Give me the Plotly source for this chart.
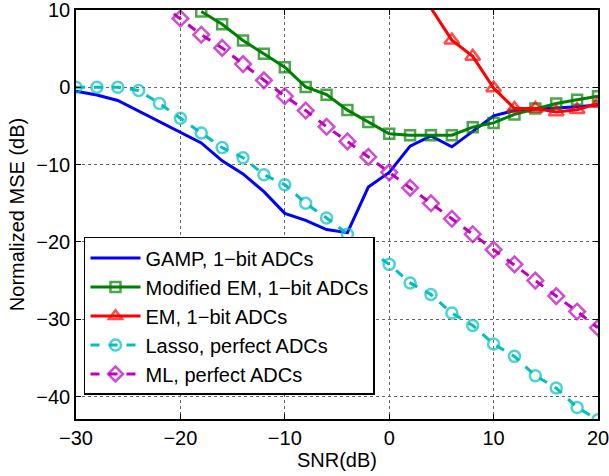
import plotly.graph_objects as go

# SNR grid (dB)
snr = [-30, -28, -26, -24, -22, -20, -18, -16, -14, -12, -10, -8, -6, -4, -2,
       0, 2, 4, 6, 8, 10, 12, 14, 16, 18, 20]

# GAMP with 1-bit ADCs
gamp_mse = [-0.5, -1.0, -1.7, -3.1, -4.5, -5.9, -7.2, -9.5, -11.2, -13.5, -16.3,
            -17.2, -18.4, -18.8, -12.9, -11.0, -7.6, -6.3, -7.7, -5.7, -3.7,
            -3.0, -2.85, -2.65, -2.5, -2.3]

# Modified EM with 1-bit ADCs
mem_snr = [-18, -16, -14, -12, -10, -8, -6, -4, -2, 0, 2, 4, 6, 8, 10, 12, 14, 16, 18, 20]
mem_mse = [9.8, 8.15, 6.05, 4.35, 2.6, 0.05, -0.95, -2.95, -4.5, -6.0, -6.2,
           -6.2, -6.2, -5.15, -4.6, -3.5, -2.75, -2.1, -1.6, -1.15]

# EM with 1-bit ADCs
em_snr = [4, 6, 8, 10, 12, 14, 16, 18, 20]
em_mse = [10.25, 6.1, 4.0, -0.1, -2.75, -2.75, -3.2, -2.9, -2.1]

# Lasso with perfect ADCs
lasso_mse = [0.0, 0.0, 0.0, -0.4, -2.1, -4.0, -5.9, -7.8, -9.1, -11.3, -12.6,
             -15.0, -16.9, -19.0, -21.0, -22.9, -25.3, -26.8, -29.2, -30.8,
             -33.2, -34.8, -37.3, -38.9, -41.4, -43.0]

# ML with perfect ADCs
ml_snr = [-22, -20, -18, -16, -14, -12, -10, -8, -6, -4, -2, 0, 2, 4, 6, 8, 10,
          12, 14, 16, 18, 20]
ml_mse = [10.9, 8.9, 6.8, 5.1, 3.0, 0.9, -1.15, -3.0, -5.1, -7.0, -9.0, -11.0,
          -13.0, -15.0, -17.0, -19.0, -21.0, -22.9, -25.0, -27.0, -29.0, -31.1]

X_RANGE = [-30, 20]
Y_RANGE = [-42.9, 10]

FONT = "Liberation Sans, Arial, Helvetica, sans-serif"
LW = 3


def sizes(values, size):
    # markers whose centre lies above the axes are not drawn (line still clipped)
    return [size if v <= Y_RANGE[1] else 0 for v in values]


fig = go.Figure()
fig.add_trace(go.Scatter(
    x=snr, y=gamp_mse, mode="lines", name="GAMP, 1\u2212bit ADCs",
    line=dict(color="#0000FF", width=LW)))
fig.add_trace(go.Scatter(
    x=mem_snr, y=mem_mse, mode="lines+markers", name="Modified EM, 1\u2212bit ADCs",
    line=dict(color="#008000", width=LW),
    marker=dict(symbol="square-open", size=sizes(mem_mse, 10), color="#008000",
                line=dict(width=2.5, color="#008000"))))
fig.add_trace(go.Scatter(
    x=em_snr, y=em_mse, mode="lines+markers", name="EM, 1\u2212bit ADCs",
    line=dict(color="#FF0000", width=LW),
    marker=dict(symbol="triangle-up-open", size=sizes(em_mse, 13), color="#FF0000",
                line=dict(width=2.5, color="#FF0000"))))
fig.add_trace(go.Scatter(
    x=snr, y=lasso_mse, mode="lines+markers", name="Lasso, perfect ADCs",
    line=dict(color="#00BFBF", width=LW, dash="dash"),
    marker=dict(symbol="circle-open", size=sizes(lasso_mse, 11), color="#00BFBF",
                line=dict(width=2.5, color="#00BFBF"))))
fig.add_trace(go.Scatter(
    x=ml_snr, y=ml_mse, mode="lines+markers", name="ML, perfect ADCs",
    line=dict(color="#BF00BF", width=LW, dash="dash"),
    marker=dict(symbol="diamond-open", size=sizes(ml_mse, 12), color="#BF00BF",
                line=dict(width=2.5, color="#BF00BF"))))

axis_common = dict(
    showline=True, linecolor="black", linewidth=1.5, mirror="allticks",
    ticks="inside", ticklen=5, tickwidth=1, tickcolor="black",
    showgrid=True, gridcolor="#666666", gridwidth=1, griddash="dot",
    zeroline=False, tickfont=dict(family=FONT, size=20, color="black"),
    ticklabeloverflow="allow", automargin=False,
)

fig.update_xaxes(range=X_RANGE, tickvals=[-30, -20, -10, 0, 10, 20],
                 title=dict(text="SNR(dB)", font=dict(family=FONT, size=20, color="black"),
                            standoff=1),
                 **axis_common)
fig.update_yaxes(range=Y_RANGE, tickvals=[-40, -30, -20, -10, 0, 10],
                 title=dict(text="Normalized MSE (dB)",
                            font=dict(family=FONT, size=20, color="black"), standoff=6),
                 **axis_common)

fig.update_layout(
    width=609, height=476,
    margin=dict(l=76, r=11, t=10, b=57, autoexpand=False),
    plot_bgcolor="white", paper_bgcolor="white",
    font=dict(family=FONT, size=20, color="black"),
    legend=dict(x=0.0153, y=0.445, xanchor="left", yanchor="top",
                bgcolor="white", bordercolor="black", borderwidth=1.5,
                font=dict(family=FONT, size=20, color="black"),
                itemwidth=50, tracegroupgap=0),
    showlegend=True,
)

fig.write_html("out.html")
